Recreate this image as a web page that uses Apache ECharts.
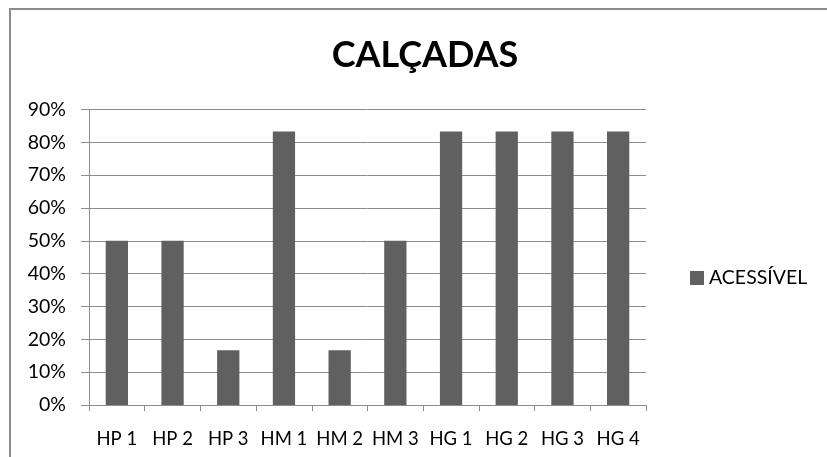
<!DOCTYPE html>
<html>
<head>
<meta charset="utf-8">
<script src="https://cdn.jsdelivr.net/npm/echarts@6/dist/echarts.min.js"></script>
<style>
html,body{margin:0;padding:0;background:#fff;}
#c{width:827px;height:457px;}
</style>
</head>
<body>
<div id="c"></div>
<script>
const categories = ['HP 1','HP 2','HP 3','HM 1','HM 2','HM 3','HG 1','HG 2','HG 3','HG 4'];
const acessivel = [50, 50, 16.67, 83.33, 16.67, 50, 83.33, 83.33, 83.33, 83.33];
const seriesName = 'ACESSÍVEL';
const titleText = 'CALÇADAS';

const chart = echarts.init(document.getElementById('c'), null, {renderer:'canvas'});
const font = 'Lato, "Open Sans", sans-serif';
const gray = '#8c8c8c';
chart.setOption({
  animation:false,
  backgroundColor:'#fff',
  title:{text:titleText,left:420,top:32,textAlign:'center',
    textStyle:{fontFamily:font,fontWeight:'bold',fontSize:36,color:'#000'}},
  legend:{data:[seriesName],left:685,top:263,orient:'vertical',itemWidth:14,itemHeight:14,itemGap:5,
    icon:'rect',textStyle:{fontFamily:font,fontSize:19.5,color:'#000',padding:[0,0,0,0]}},
  grid:{left:89,right:181,top:109.5,bottom:52,containLabel:false},
  xAxis:{type:'category',data:categories,
    axisLine:{lineStyle:{color:gray,width:1}},
    axisTick:{show:true,alignWithLabel:false,length:6,lineStyle:{color:gray}},
    axisLabel:{fontFamily:font,fontSize:18.5,color:'#000',margin:25,interval:0}},
  yAxis:{type:'value',min:0,max:90,interval:10,
    axisLine:{show:true,lineStyle:{color:gray,width:1}},
    axisTick:{show:true,length:8,lineStyle:{color:gray}},
    splitLine:{show:true,lineStyle:{color:gray,width:1}},
    axisLabel:{formatter:'{value}%',fontFamily:font,fontSize:19.5,color:'#000',margin:23}},
  graphic:[
    {type:'line',shape:{x1:9,y1:9,x2:827,y2:9},style:{stroke:gray,lineWidth:2}},
    {type:'line',shape:{x1:10,y1:8,x2:10,y2:457},style:{stroke:gray,lineWidth:2}}
  ],
  series:[{name:seriesName,type:'bar',data:acessivel,barWidth:'40%',
    itemStyle:{color:'#606060'}}]
});
</script>
</body>
</html>
